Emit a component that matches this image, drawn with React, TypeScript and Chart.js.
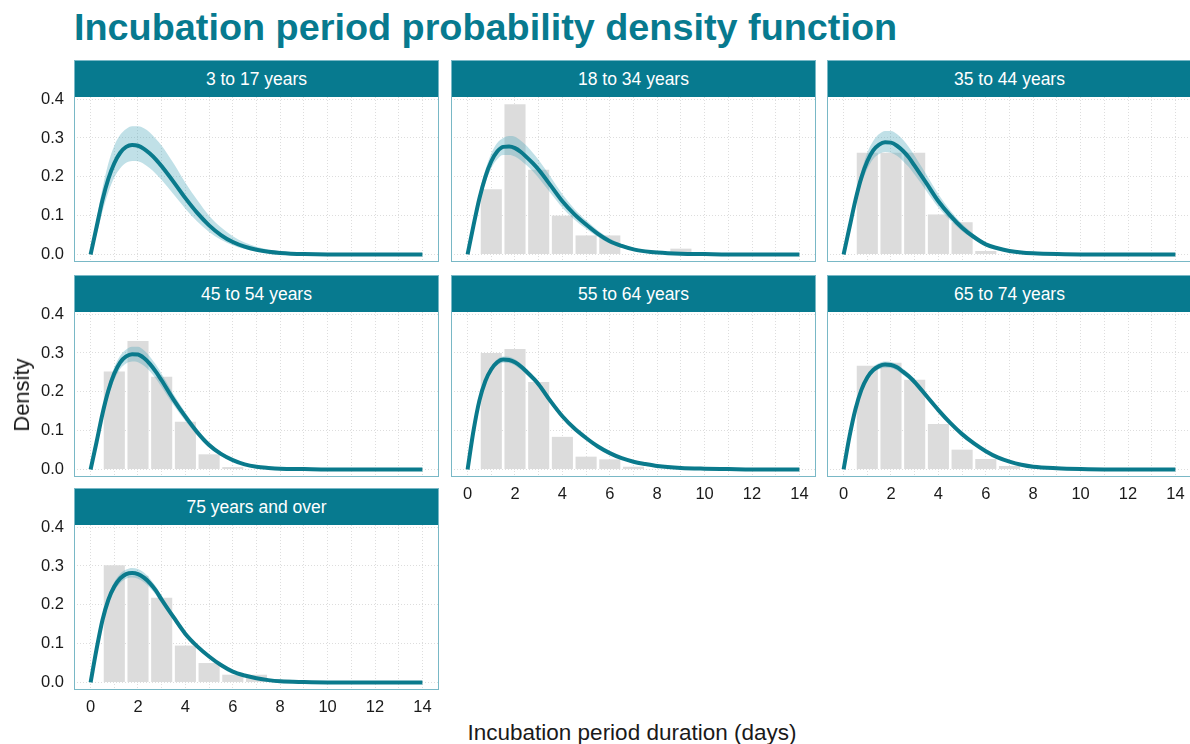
import React, { useEffect, useRef } from "react";
import { Chart, registerables } from "chart.js";

Chart.register(...registerables);

// ---------- text ----------
const TITLE = "Incubation period probability density function";
const X_TITLE = "Incubation period duration (days)";
const Y_TITLE = "Density";
const panelLabels = [
  "3 to 17 years",
  "18 to 34 years",
  "35 to 44 years",
  "45 to 54 years",
  "55 to 64 years",
  "65 to 74 years",
  "75 years and over",
];

// ---------- ticks ----------
const xTickValues = [0, 1, 2, 3, 4, 5, 6, 7, 8, 9, 10, 11, 12, 13, 14];
const xTickLabels = ["0", "", "2", "", "4", "", "6", "", "8", "", "10", "", "12", "", "14"];
const yTickValues = [0, 0.1, 0.2, 0.3, 0.4];
const yTickLabels = ["0.0", "0.1", "0.2", "0.3", "0.4"];

// ---------- fitted density (x positions, days) ----------
const xGrid = [0, 0.25, 0.5, 0.75, 1, 1.25, 1.5, 1.75, 2, 2.25, 2.5, 2.75, 3, 3.5, 4, 4.5, 5, 5.5, 6, 6.5, 7, 7.5, 8, 9, 10, 11, 12, 13, 14];

const fit3to17 = [0, 0.07, 0.14, 0.195, 0.235, 0.262, 0.277, 0.282, 0.28, 0.272, 0.26, 0.245, 0.227, 0.187, 0.145, 0.107, 0.075, 0.05, 0.032, 0.02, 0.012, 0.007, 0.004, 0.001, 0, 0, 0, 0, 0];
const upper3to17 = [0, 0.09, 0.17, 0.235, 0.28, 0.308, 0.323, 0.33, 0.33, 0.325, 0.314, 0.298, 0.28, 0.235, 0.185, 0.14, 0.1, 0.07, 0.047, 0.031, 0.02, 0.013, 0.008, 0.003, 0.001, 0, 0, 0, 0];
const lower3to17 = [0, 0.05, 0.11, 0.16, 0.198, 0.222, 0.236, 0.241, 0.24, 0.233, 0.222, 0.208, 0.192, 0.155, 0.118, 0.085, 0.058, 0.038, 0.024, 0.014, 0.008, 0.004, 0.002, 0.001, 0, 0, 0, 0, 0];

const fit18to34 = [0, 0.075, 0.145, 0.2, 0.24, 0.265, 0.277, 0.278, 0.274, 0.264, 0.25, 0.235, 0.218, 0.178, 0.137, 0.104, 0.077, 0.053, 0.034, 0.022, 0.013, 0.008, 0.005, 0.002, 0.001, 0, 0, 0, 0];
const upper18to34 = [0, 0.085, 0.16, 0.218, 0.26, 0.287, 0.3, 0.305, 0.303, 0.293, 0.279, 0.262, 0.243, 0.2, 0.155, 0.118, 0.088, 0.062, 0.041, 0.027, 0.017, 0.01, 0.006, 0.002, 0.001, 0, 0, 0, 0];
const lower18to34 = [0, 0.065, 0.13, 0.183, 0.222, 0.245, 0.256, 0.256, 0.252, 0.242, 0.229, 0.214, 0.197, 0.158, 0.12, 0.09, 0.066, 0.045, 0.028, 0.018, 0.01, 0.006, 0.003, 0.001, 0, 0, 0, 0, 0];

const fit35to44 = [0, 0.07, 0.14, 0.198, 0.24, 0.268, 0.283, 0.289, 0.288, 0.28, 0.267, 0.25, 0.228, 0.183, 0.137, 0.1, 0.069, 0.045, 0.026, 0.016, 0.009, 0.005, 0.003, 0.001, 0, 0, 0, 0, 0];
const upper35to44 = [0, 0.08, 0.155, 0.215, 0.262, 0.292, 0.31, 0.318, 0.318, 0.31, 0.296, 0.277, 0.254, 0.205, 0.155, 0.113, 0.079, 0.052, 0.031, 0.019, 0.011, 0.006, 0.003, 0.001, 0, 0, 0, 0, 0];
const lower35to44 = [0, 0.06, 0.125, 0.182, 0.22, 0.246, 0.259, 0.264, 0.262, 0.254, 0.241, 0.225, 0.205, 0.163, 0.121, 0.088, 0.06, 0.039, 0.022, 0.013, 0.007, 0.004, 0.002, 0.001, 0, 0, 0, 0, 0];

const fit45to54 = [0, 0.07, 0.143, 0.203, 0.247, 0.276, 0.291, 0.297, 0.296, 0.287, 0.272, 0.252, 0.229, 0.18, 0.136, 0.096, 0.063, 0.04, 0.024, 0.013, 0.007, 0.004, 0.002, 0.001, 0, 0, 0, 0, 0];
const upper45to54 = [0, 0.078, 0.155, 0.218, 0.263, 0.293, 0.309, 0.316, 0.316, 0.307, 0.291, 0.27, 0.246, 0.194, 0.147, 0.105, 0.07, 0.045, 0.027, 0.015, 0.008, 0.004, 0.002, 0.001, 0, 0, 0, 0, 0];
const lower45to54 = [0, 0.062, 0.131, 0.188, 0.231, 0.259, 0.273, 0.278, 0.276, 0.267, 0.253, 0.234, 0.212, 0.166, 0.125, 0.087, 0.056, 0.035, 0.021, 0.011, 0.006, 0.003, 0.001, 0, 0, 0, 0, 0, 0];

const fit55to64 = [0, 0.1, 0.178, 0.228, 0.258, 0.276, 0.283, 0.282, 0.276, 0.265, 0.251, 0.236, 0.219, 0.176, 0.137, 0.106, 0.081, 0.059, 0.042, 0.029, 0.02, 0.014, 0.009, 0.004, 0.002, 0.001, 0, 0, 0];
const upper55to64 = [0, 0.106, 0.186, 0.236, 0.266, 0.284, 0.291, 0.29, 0.284, 0.273, 0.258, 0.243, 0.226, 0.182, 0.142, 0.11, 0.084, 0.062, 0.044, 0.031, 0.021, 0.015, 0.01, 0.004, 0.002, 0.001, 0, 0, 0];
const lower55to64 = [0, 0.094, 0.17, 0.22, 0.25, 0.268, 0.275, 0.274, 0.268, 0.257, 0.244, 0.229, 0.212, 0.17, 0.132, 0.102, 0.078, 0.056, 0.04, 0.027, 0.019, 0.013, 0.008, 0.003, 0.001, 0, 0, 0, 0];

const fit65to74 = [0, 0.085, 0.155, 0.205, 0.237, 0.256, 0.266, 0.27, 0.269, 0.263, 0.252, 0.24, 0.225, 0.189, 0.153, 0.12, 0.091, 0.067, 0.047, 0.031, 0.02, 0.012, 0.007, 0.003, 0.001, 0, 0, 0, 0];
const upper65to74 = [0, 0.09, 0.162, 0.212, 0.245, 0.264, 0.274, 0.278, 0.277, 0.271, 0.26, 0.248, 0.233, 0.196, 0.159, 0.125, 0.095, 0.07, 0.049, 0.033, 0.021, 0.013, 0.008, 0.003, 0.001, 0, 0, 0, 0];
const lower65to74 = [0, 0.08, 0.148, 0.198, 0.229, 0.248, 0.258, 0.262, 0.261, 0.255, 0.244, 0.232, 0.217, 0.182, 0.147, 0.115, 0.087, 0.064, 0.044, 0.029, 0.019, 0.011, 0.006, 0.002, 0.001, 0, 0, 0, 0];

const fit75plus = [0, 0.085, 0.16, 0.213, 0.247, 0.268, 0.279, 0.282, 0.279, 0.27, 0.256, 0.237, 0.213, 0.168, 0.125, 0.093, 0.067, 0.045, 0.028, 0.018, 0.011, 0.006, 0.003, 0.001, 0, 0, 0, 0, 0];
const upper75plus = [0, 0.092, 0.17, 0.224, 0.259, 0.28, 0.291, 0.295, 0.292, 0.283, 0.268, 0.248, 0.223, 0.176, 0.131, 0.098, 0.071, 0.048, 0.03, 0.019, 0.012, 0.007, 0.004, 0.001, 0, 0, 0, 0, 0];
const lower75plus = [0, 0.078, 0.15, 0.202, 0.235, 0.256, 0.267, 0.27, 0.267, 0.258, 0.244, 0.226, 0.203, 0.16, 0.119, 0.088, 0.063, 0.042, 0.026, 0.017, 0.01, 0.005, 0.003, 0.001, 0, 0, 0, 0, 0];

// ---------- observed histogram (bin centres, days) ----------
const binCenters = [1, 2, 3, 4, 5, 6, 7, 8, 9];
const hist3to17 = [0, 0, 0, 0, 0, 0, 0, 0, 0];
const hist18to34 = [0.168, 0.387, 0.218, 0.1, 0.049, 0.049, 0, 0, 0.015];
const hist35to44 = [0.262, 0.262, 0.262, 0.103, 0.083, 0.009, 0, 0, 0];
const hist45to54 = [0.252, 0.331, 0.239, 0.123, 0.039, 0.006, 0, 0, 0];
const hist55to64 = [0.3, 0.31, 0.225, 0.084, 0.033, 0.026, 0.007, 0, 0];
const hist65to74 = [0.267, 0.275, 0.231, 0.117, 0.051, 0.027, 0.009, 0, 0];
const hist75plus = [0.302, 0.275, 0.218, 0.095, 0.05, 0.02, 0.02, 0.007, 0];

const fits = [fit3to17, fit18to34, fit35to44, fit45to54, fit55to64, fit65to74, fit75plus];
const uppers = [upper3to17, upper18to34, upper35to44, upper45to54, upper55to64, upper65to74, upper75plus];
const lowers = [lower3to17, lower18to34, lower35to44, lower45to54, lower55to64, lower65to74, lower75plus];
const hists = [hist3to17, hist18to34, hist35to44, hist45to54, hist55to64, hist65to74, hist75plus];

// ---------- styling ----------
const TEAL = "#077a8f";
const LINE = "#0a7a8c";
const RIBBON = "rgba(75,165,185,0.35)";
const BAR = "#dcdcdc";
const GRID = "#dddddd";
const PANEL_BORDER = "#79b8c6";
const TEXT = "#1a1a1a";
const FONT = "'Liberation Sans', Arial, Helvetica, sans-serif";

const colLefts = [74, 451, 827];
const rowTops = [60, 275, 488];
const PANEL_W = 365;
const STRIP_H = 37;
const PLOT_H = 165;
const LEFT_M = 50;
const BOTTOM_M = 30;
const TOP_M = 12;

Chart.defaults.font.family = FONT;

function Panel({ idx }: { idx: number }) {
  const ref = useRef<HTMLCanvasElement | null>(null);
  const col = idx % 3;
  const row = Math.floor(idx / 3);
  const showY = col === 0;
  const showX = idx >= 4;
  const L = showY ? LEFT_M : 0;
  const B = showX ? BOTTOM_M : 0;
  const cw = PANEL_W + L;
  const ch = PLOT_H + B + TOP_M;
  const left = colLefts[col];
  const top = rowTops[row];

  useEffect(() => {
    const canvas = ref.current;
    if (!canvas) return;
    const chart = new Chart(canvas, {
      type: "bar",
      data: {
        datasets: [
          {
            type: "bar",
            data: binCenters.map((x, i) => ({ x, y: hists[idx][i] })),
            backgroundColor: BAR,
            borderWidth: 0,
            barPercentage: 0.89,
            categoryPercentage: 1,
            order: 3,
          },
          {
            type: "line",
            data: xGrid.map((x, i) => ({ x, y: lowers[idx][i] })),
            borderColor: "rgba(0,0,0,0)",
            borderWidth: 1,
            pointRadius: 0,
            fill: false,
            cubicInterpolationMode: "monotone",
            order: 2,
          },
          {
            type: "line",
            data: xGrid.map((x, i) => ({ x, y: uppers[idx][i] })),
            borderColor: "rgba(0,0,0,0)",
            borderWidth: 1,
            backgroundColor: RIBBON,
            pointRadius: 0,
            fill: "-1",
            cubicInterpolationMode: "monotone",
            order: 2,
          },
          {
            type: "line",
            data: xGrid.map((x, i) => ({ x, y: fits[idx][i] })),
            borderColor: LINE,
            borderWidth: 4,
            borderCapStyle: "butt",
            borderJoinStyle: "round",
            pointRadius: 0,
            fill: false,
            cubicInterpolationMode: "monotone",
            order: 1,
          },
        ],
      } as any,
      options: {
        animation: false,
        responsive: false,
        events: [],
        layout: { padding: { top: TOP_M, left: 0, right: 0, bottom: 0 } },
        plugins: { legend: { display: false }, tooltip: { enabled: false }, title: { display: false } },
        scales: {
          x: {
            type: "linear",
            min: -0.7,
            max: 14.7,
            offset: false,
            grid: { color: GRID, lineWidth: 1, drawTicks: false, offset: false },
            border: { display: false, dash: [1, 2] },
            ticks: {
              display: showX,
              color: TEXT,
              padding: 8,
              maxRotation: 0,
              autoSkip: false,
              font: { size: 16.5, family: FONT },
              callback: (_v: any, i: number) => xTickLabels[i],
            },
            afterBuildTicks: (s: any) => {
              s.ticks = xTickValues.map((v) => ({ value: v }));
            },
            afterFit: (s: any) => {
              s.height = B;
              s.paddingLeft = 0;
              s.paddingRight = 0;
            },
          },
          y: {
            type: "linear",
            min: -0.0194,
            max: 0.4055,
            grid: { color: GRID, lineWidth: 1, drawTicks: false },
            border: { display: false, dash: [1, 2] },
            ticks: {
              display: showY,
              color: TEXT,
              padding: 10,
              autoSkip: false,
              font: { size: 16.5, family: FONT },
              callback: (_v: any, i: number) => yTickLabels[i],
            },
            afterBuildTicks: (s: any) => {
              s.ticks = yTickValues.map((v) => ({ value: v }));
            },
            afterFit: (s: any) => {
              s.width = L;
              s.paddingTop = 0;
              s.paddingBottom = 0;
            },
          },
        },
      } as any,
    });
    return () => chart.destroy();
  }, [idx]);

  return (
    <>
      <canvas
        ref={ref}
        width={cw}
        height={ch}
        style={{ position: "absolute", left: left - L, top: top + STRIP_H - TOP_M, width: cw, height: ch }}
      />
      <div
        style={{
          position: "absolute",
          left,
          top,
          width: PANEL_W,
          height: STRIP_H + PLOT_H,
          border: `1px solid ${PANEL_BORDER}`,
          boxSizing: "border-box",
          pointerEvents: "none",
        }}
      >
        <div
          style={{
            height: STRIP_H - 1,
            background: TEAL,
            color: "#ffffff",
            fontFamily: FONT,
            fontSize: 17.5,
            lineHeight: `${STRIP_H - 1}px`,
            textAlign: "center",
          }}
        >
          {panelLabels[idx]}
        </div>
      </div>
    </>
  );
}

export default function App() {
  return (
    <div
      style={{
        position: "fixed",
        left: 0,
        top: 0,
        width: 1190,
        height: 744,
        overflow: "hidden",
        background: "#ffffff",
        fontFamily: FONT,
      }}
    >
      <div
        style={{
          position: "absolute",
          left: 74,
          top: 8,
          fontSize: 37.8,
          lineHeight: "38px",
          fontWeight: 700,
          color: TEAL,
          whiteSpace: "nowrap",
        }}
      >
        {TITLE}
      </div>
      {panelLabels.map((_, i) => (
        <Panel key={i} idx={i} />
      ))}
      <div
        style={{
          position: "absolute",
          left: 22,
          top: 395,
          transform: "translate(-50%, -50%) rotate(-90deg)",
          fontSize: 22,
          lineHeight: "26px",
          color: TEXT,
          whiteSpace: "nowrap",
        }}
      >
        {Y_TITLE}
      </div>
      <div
        style={{
          position: "absolute",
          left: 74,
          width: 1116,
          top: 720,
          fontSize: 22.5,
          lineHeight: "26px",
          color: TEXT,
          textAlign: "center",
          whiteSpace: "nowrap",
        }}
      >
        {X_TITLE}
      </div>
    </div>
  );
}
